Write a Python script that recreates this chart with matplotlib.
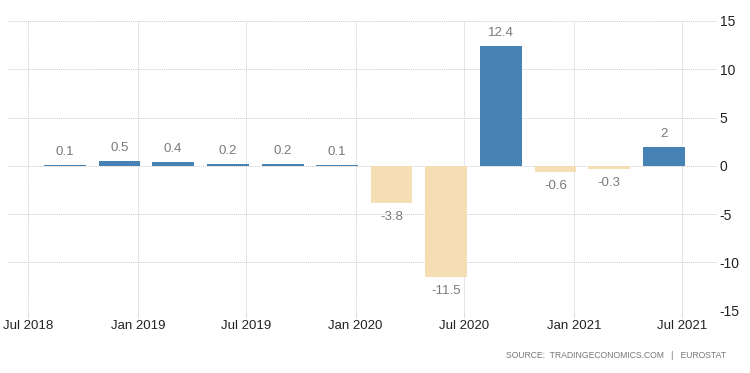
import matplotlib
matplotlib.use("Agg")
import matplotlib.pyplot as plt
import matplotlib.dates as mdates
import numpy as np

plt.rcParams['font.family'] = ['Liberation Sans', 'DejaVu Sans']

# Data
periods = ["2018-09-01", "2018-12-01", "2019-03-01", "2019-06-01", "2019-09-01", "2019-12-01",
           "2020-03-01", "2020-06-01", "2020-09-01", "2020-12-01", "2021-03-01", "2021-06-01"]
values = [0.1, 0.5, 0.4, 0.2, 0.2, 0.1, -3.8, -11.5, 12.4, -0.6, -0.3, 2]
value_labels = ["0.1", "0.5", "0.4", "0.2", "0.2", "0.1", "-3.8", "-11.5", "12.4", "-0.6", "-0.3", "2"]
xtick_dates = ["2018-07-01", "2019-01-01", "2019-07-01", "2020-01-01", "2020-07-01", "2021-01-01", "2021-07-01"]
xtick_labels = ["Jul 2018", "Jan 2019", "Jul 2019", "Jan 2020", "Jul 2020", "Jan 2021", "Jul 2021"]
yticks = [-15, -10, -5, 0, 5, 10, 15]
source_text = "SOURCE:  TRADINGECONOMICS.COM   |   EUROSTAT"

x = mdates.date2num(np.array(periods, dtype="datetime64[D]"))
xt = mdates.date2num(np.array(xtick_dates, dtype="datetime64[D]"))

fig = plt.figure(figsize=(7.5, 3.73), dpi=100)
ax = fig.add_axes([8/750, 1 - 310.7/373, (717-8)/750, (310.7-21)/373])

pos_color = "#4682B4"
neg_color = "#F5DEB3"
colors = [pos_color if v >= 0 else neg_color for v in values]

ax.bar(x, values, width=70, color=colors, zorder=3)

for xi, v, lab in zip(x, values, value_labels):
    if v >= 0:
        ax.annotate(lab, (xi, v), xytext=(0, 5), textcoords="offset points",
                    ha="center", va="bottom", fontsize=9.5, color="#7a7a7a")
    else:
        ax.annotate(lab, (xi, v), xytext=(0, -6), textcoords="offset points",
                    ha="center", va="top", fontsize=9.5, color="#7a7a7a")

ax.set_xlim(mdates.date2num(np.datetime64("2018-05-28")), mdates.date2num(np.datetime64("2021-08-29")))
ax.set_ylim(-15, 15)

ax.set_xticks(xt)
ax.set_xticklabels(xtick_labels)
ax.set_yticks(yticks)
ax.set_yticklabels([str(t) for t in yticks])

ax.yaxis.tick_right()
ax.tick_params(axis="y", length=0, pad=2, labelsize=10, labelcolor="#222222")
ax.tick_params(axis="x", length=5, width=0.8, color="#dddddd", pad=2, labelsize=9.5, labelcolor="#222222")

for s in ax.spines.values():
    s.set_visible(False)

ax.grid(True, which="major", axis="both", linestyle=(0, (1, 1)), color="#cccccc", linewidth=0.7, zorder=0)
ax.set_axisbelow(True)

fig.text(726/750, 1 - 356/373, source_text, ha="right", va="center", fontsize=6.2, color="#777777")

fig.savefig("out.png", dpi=100)
